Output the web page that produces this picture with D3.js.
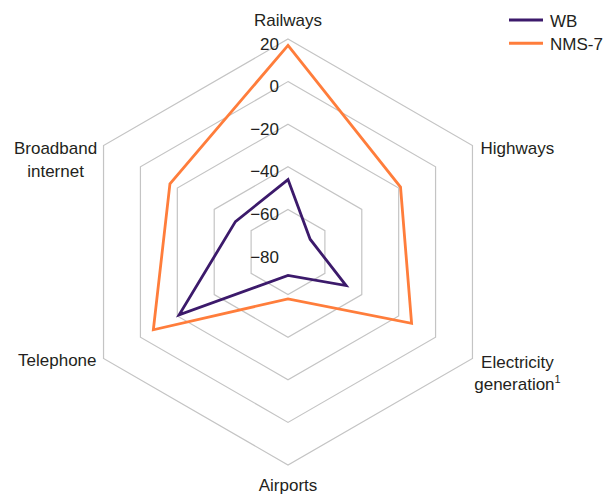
<!DOCTYPE html>
<html>
  <head>
    <script src="https://cdn.jsdelivr.net/npm/d3@7/dist/d3.min.js" charset="utf-8"></script>
    <style>
      body { margin: 0; background: #fff; }
      text { font-family: "Liberation Sans", Arial, sans-serif; fill: #231f20; }
    </style>
  </head>
  <body>
    <svg id="radar" width="605" height="495"></svg>
    <script>
      var axes = ["Railways", "Highways", "Electricity generation", "Airports", "Telephone", "Broadband internet"];
      var wb = [-46, -68, -48.5, -69, -21, -51.5];
      var nms7 = [17, -19, -13, -58, -7, -16];
      var ticks = [-80, -60, -40, -20, 0, 20];
      var seriesNames = ["WB", "NMS-7"];
      var colors = ["#3c1a6b", "#ff7d3b"];

      var svg = d3.select("#radar");
      var cx = 288, cy = 252, R = 213;
      var r = d3.scaleLinear().domain([-80, 20]).range([0, R]);
      var ang = d3.scalePoint().domain(axes).range([0, 2 * Math.PI * 5 / 6]);

      function pt(a, v) {
        var t = ang(a);
        return [cx + r(v) * Math.sin(t), cy - r(v) * Math.cos(t)];
      }

      // grid hexagons
      var g = svg.append("g");
      g.selectAll("polygon.ring").data(ticks.slice(1)).enter().append("polygon")
        .attr("class", "ring")
        .attr("points", t => axes.map(a => pt(a, t).join(",")).join(" "))
        .attr("fill", "none").attr("stroke", "#c4c4c4").attr("stroke-width", 1.2);

      // tick labels
      g.selectAll("text.tick").data(ticks).enter().append("text")
        .attr("class", "tick")
        .attr("x", cx - 9).attr("y", t => cy - r(t) + 10.5)
        .attr("text-anchor", "end").attr("font-size", 17)
        .text(t => d3.format("")(t).replace("-", "\u2212"));

      // series
      var line = d3.line().curve(d3.curveLinearClosed);
      [wb, nms7].forEach(function(vals, i) {
        svg.append("path")
          .attr("d", line(axes.map((a, j) => pt(a, vals[j]))))
          .attr("fill", "none").attr("stroke", colors[i]).attr("stroke-width", 2.8)
          .attr("stroke-linejoin", "miter");
      });

      // axis labels
      var lab = svg.append("g").attr("font-size", 17);
      function vtx(i) { return pt(axes[i], 20); }
      var p;
      p = vtx(0);
      lab.append("text").attr("x", p[0]).attr("y", p[1] - 13).attr("text-anchor", "middle").text("Railways");
      p = vtx(1);
      lab.append("text").attr("x", p[0] + 8).attr("y", p[1] + 8).text("Highways");
      p = vtx(2);
      var el = lab.append("text").attr("text-anchor", "middle");
      el.append("tspan").attr("x", p[0] + 45).attr("y", p[1] + 9).text("Electricity");
      var gen = el.append("tspan").attr("x", p[0] + 45).attr("y", p[1] + 31).text("generation");
      gen.append("tspan").attr("font-size", 11).attr("dy", -7).text("1");
      p = vtx(3);
      lab.append("text").attr("x", p[0]).attr("y", p[1] + 26).attr("text-anchor", "middle").text("Airports");
      p = vtx(4);
      lab.append("text").attr("x", p[0] - 7).attr("y", p[1] + 7).attr("text-anchor", "end").text("Telephone");
      p = vtx(5);
      var bb = lab.append("text").attr("text-anchor", "middle");
      bb.append("tspan").attr("x", p[0] - 48).attr("y", p[1] + 8).text("Broadband");
      bb.append("tspan").attr("x", p[0] - 48).attr("y", p[1] + 31).text("internet");

      // legend
      var leg = svg.append("g").selectAll("g").data(seriesNames).enter().append("g")
        .attr("transform", (d, i) => "translate(509," + (20 + i * 23.3) + ")");
      leg.append("line").attr("x1", 0).attr("x2", 34).attr("y1", 0).attr("y2", 0)
        .attr("stroke", (d, i) => colors[i]).attr("stroke-width", 3);
      leg.append("text").attr("x", 41).attr("y", 6.5).attr("font-size", 17).text(d => d);
    </script>
  </body>
</html>
